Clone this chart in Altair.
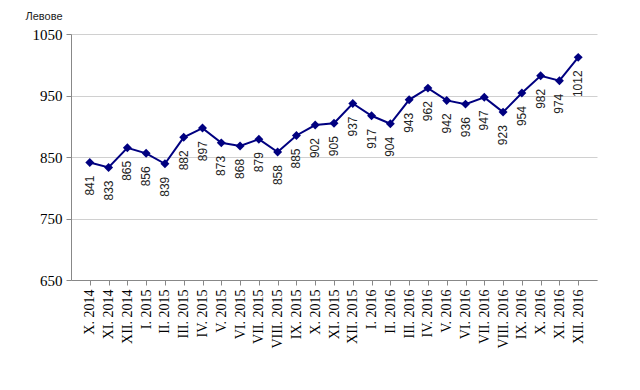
import altair as alt
import pandas as pd

months = ["X. 2014", "XI. 2014", "XII. 2014",
          "I. 2015", "II. 2015", "III. 2015", "IV. 2015", "V. 2015", "VI. 2015",
          "VII. 2015", "VIII. 2015", "IX. 2015", "X. 2015", "XI. 2015", "XII. 2015",
          "I. 2016", "II. 2016", "III. 2016", "IV. 2016", "V. 2016", "VI. 2016",
          "VII. 2016", "VIII. 2016", "IX. 2016", "X. 2016", "XI. 2016", "XII. 2016"]
values = [841, 833, 865, 856, 839, 882, 897, 873, 868, 879, 858, 885, 902, 905, 937,
          917, 904, 943, 962, 942, 936, 947, 923, 954, 982, 974, 1012]

df = pd.DataFrame({"month": months, "value": values})

x = alt.X("month:N", sort=months, scale=alt.Scale(type="point", padding=1),
          axis=alt.Axis(title=None, labelAngle=270, labelAlign="right", labelBaseline="middle",
                        labelFont="Liberation Serif", labelFontSize=14, labelColor="#000",
                        labelPadding=4, tickColor="#888", domainColor="#888", tickSize=5,
                        grid=False))
y = alt.Y("value:Q", scale=alt.Scale(domain=[650, 1050], nice=False, zero=False),
          axis=alt.Axis(values=[650, 750, 850, 950, 1050], format="d", title="Левове", titleAngle=0,
                        titleX=-46, titleY=-15, titleAlign="left", titleBaseline="alphabetic",
                        titleFont="Liberation Sans", titleFontSize=11, titleFontWeight="normal",
                        titleColor="#222",
                        labelFont="Liberation Serif", labelFontSize=15, labelColor="#000",
                        labelPadding=4, tickColor="#888", domainColor="#888", tickSize=5,
                        gridColor="#d0d0d0"))

base = alt.Chart(df).encode(x=x, y=y)
line = base.mark_line(color="#000080", strokeWidth=2)
pts = base.mark_point(shape="diamond", filled=True, color="#000080", size=80, opacity=1)
labels = base.mark_text(angle=270, align="right", baseline="middle", yOffset=13,
                        font="Liberation Sans", fontSize=12, color="#222").encode(
    text=alt.Text("value:Q"))

chart = (line + pts + labels).properties(
    width=526, height=246,
    autosize=alt.AutoSizeParams(type="none"),
    padding={"left": 63, "top": 26, "right": 35, "bottom": 102},
).configure_view(stroke=None)

chart.save("out.html", embed_options={"renderer": "svg", "actions": False})
